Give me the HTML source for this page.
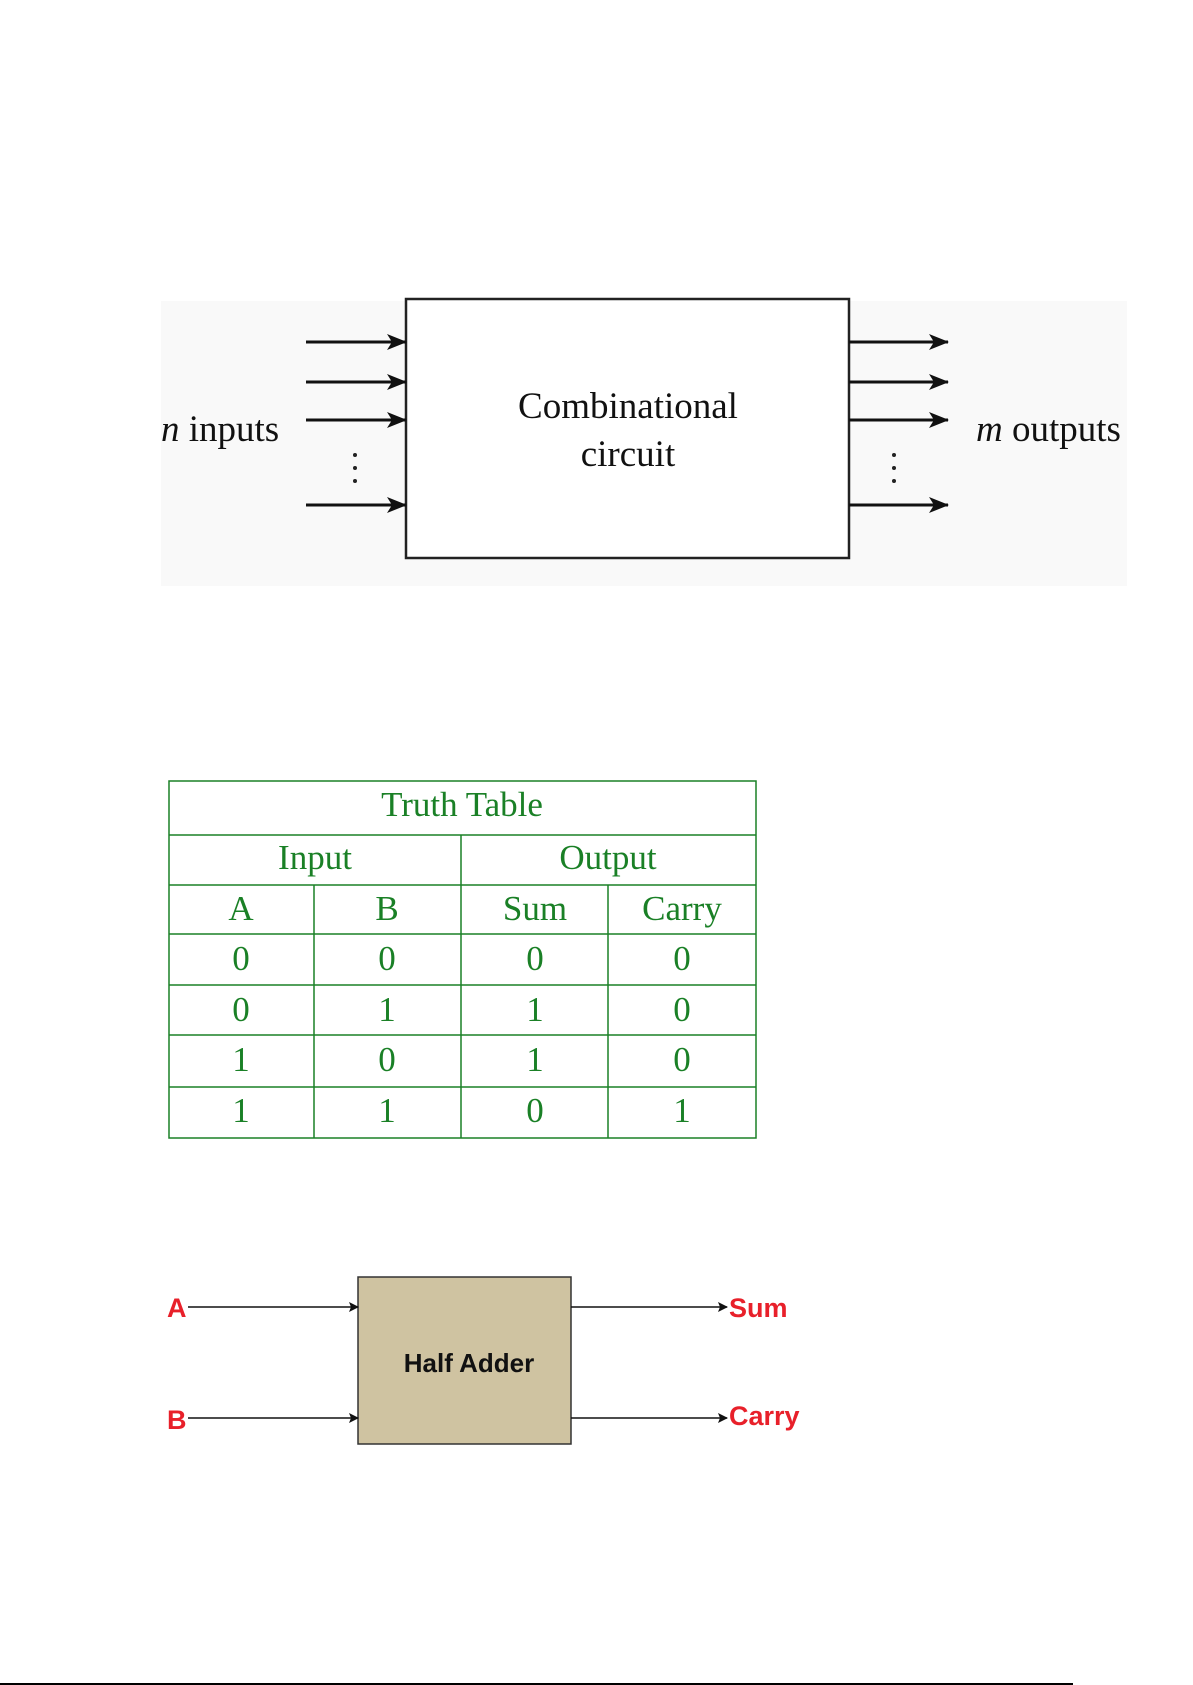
<!DOCTYPE html>
<html><head><style>
body{margin:0;background:#fff;width:1193px;height:1685px;overflow:hidden}
svg{display:block}
</style></head><body>
<svg width="1193" height="1685" xmlns="http://www.w3.org/2000/svg">
<defs>
<marker id="ah" markerWidth="20" markerHeight="16" refX="19" refY="8" orient="auto" markerUnits="userSpaceOnUse"><path d="M0,0 L20,8 L0,16 L5,8 Z" fill="#111"/></marker>
<marker id="sh" markerWidth="10" markerHeight="10" refX="9" refY="5" orient="auto" markerUnits="userSpaceOnUse"><path d="M0,0 L10,5 L0,10 L2,5 Z" fill="#111"/></marker>
</defs>
<rect x="161" y="301" width="966" height="285" fill="#f9f9f9"/>
<rect x="406" y="299" width="443" height="259" fill="#fff" stroke="#222" stroke-width="2.5"/>
<g stroke="#111" stroke-width="3" marker-end="url(#ah)">
<line x1="306" y1="342" x2="406" y2="342"/><line x1="306" y1="382" x2="406" y2="382"/>
<line x1="306" y1="420" x2="406" y2="420"/><line x1="306" y1="505" x2="406" y2="505"/>
<line x1="849" y1="342" x2="948" y2="342"/><line x1="849" y1="382" x2="948" y2="382"/>
<line x1="849" y1="420" x2="948" y2="420"/><line x1="849" y1="505" x2="948" y2="505"/>
</g>
<g fill="#222"><circle cx="355" cy="455" r="2"/><circle cx="355" cy="468" r="2"/><circle cx="355" cy="481" r="2"/>
<circle cx="894" cy="455" r="2"/><circle cx="894" cy="468" r="2"/><circle cx="894" cy="481" r="2"/></g>
<g font-family="Liberation Serif, serif" font-size="37" fill="#111">
<text x="161" y="441"><tspan font-style="italic">n</tspan> inputs</text>
<text x="976" y="441"><tspan font-style="italic">m</tspan> outputs</text>
<text x="628" y="418" text-anchor="middle">Combinational</text>
<text x="628" y="466" text-anchor="middle">circuit</text>
</g>
<g stroke="#1a8026" stroke-width="1.5" fill="none">
<rect x="169" y="781" width="587" height="357"/>
<line x1="169" y1="835" x2="756" y2="835"/><line x1="169" y1="885" x2="756" y2="885"/>
<line x1="169" y1="934" x2="756" y2="934"/><line x1="169" y1="985" x2="756" y2="985"/>
<line x1="169" y1="1035" x2="756" y2="1035"/><line x1="169" y1="1087" x2="756" y2="1087"/>
<line x1="461" y1="835" x2="461" y2="1138"/>
<line x1="314" y1="885" x2="314" y2="1138"/><line x1="608" y1="885" x2="608" y2="1138"/>
</g>
<g font-family="Liberation Serif, serif" font-size="35" fill="#1a8026" text-anchor="middle">
<text x="462" y="816">Truth Table</text>
<text x="315" y="869">Input</text><text x="608" y="869">Output</text>
<text x="241" y="920">A</text><text x="387" y="920">B</text><text x="535" y="920">Sum</text><text x="682" y="920">Carry</text>
<text x="241" y="970">0</text><text x="387" y="970">0</text><text x="535" y="970">0</text><text x="682" y="970">0</text>
<text x="241" y="1021">0</text><text x="387" y="1021">1</text><text x="535" y="1021">1</text><text x="682" y="1021">0</text>
<text x="241" y="1071">1</text><text x="387" y="1071">0</text><text x="535" y="1071">1</text><text x="682" y="1071">0</text>
<text x="241" y="1122">1</text><text x="387" y="1122">1</text><text x="535" y="1122">0</text><text x="682" y="1122">1</text>
</g>
<rect x="358" y="1277" width="213" height="167" fill="#cfc3a1" stroke="#333" stroke-width="1.5"/>
<g stroke="#111" stroke-width="1.5" marker-end="url(#sh)">
<line x1="188" y1="1307" x2="358" y2="1307"/><line x1="188" y1="1418" x2="358" y2="1418"/>
<line x1="571" y1="1307" x2="727" y2="1307"/><line x1="571" y1="1418" x2="727" y2="1418"/>
</g>
<g font-family="Liberation Sans, sans-serif" font-size="27" font-weight="bold" fill="#e8202a">
<text x="167" y="1317">A</text><text x="167" y="1429">B</text>
<text x="729" y="1317">Sum</text><text x="729" y="1425">Carry</text>
</g>
<text x="469" y="1372" text-anchor="middle" font-family="Liberation Sans, sans-serif" font-size="26" font-weight="bold" fill="#111">Half Adder</text>
<line x1="0" y1="1684" x2="1073" y2="1684" stroke="#000" stroke-width="2"/>
</svg>
</body></html>
